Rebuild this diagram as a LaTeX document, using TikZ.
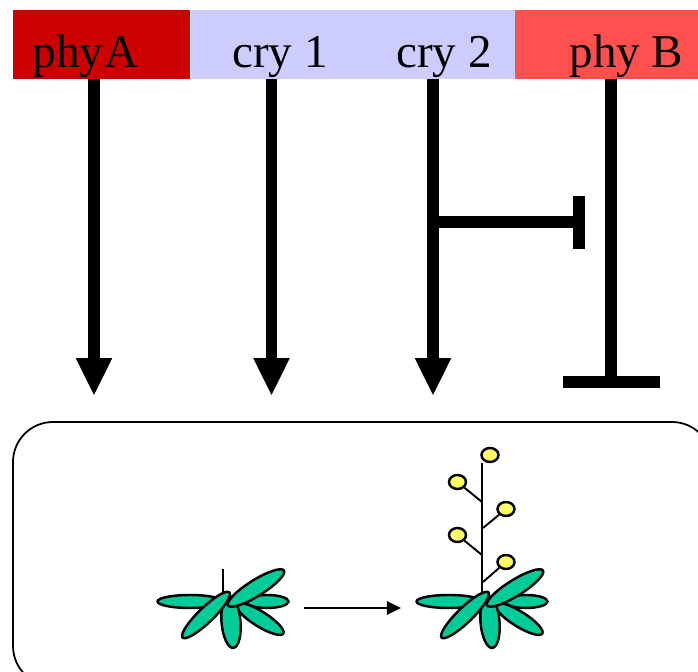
\documentclass[tikz,border=0pt]{standalone}
\usepackage{fontspec}
\setmainfont{Liberation Serif}
\usetikzlibrary{arrows.meta,positioning,shapes.geometric}
\definecolor{phyadark}{HTML}{CC0000}
\definecolor{crylilac}{HTML}{CCCCFF}
\definecolor{phybred}{HTML}{FF5050}
\definecolor{leafgreen}{HTML}{00CC99}
\definecolor{flowerylw}{HTML}{FFFF66}

\tikzset{
  band/.style={rectangle, inner sep=0pt, minimum height=1.38cm},
  photolabel/.style={anchor=base, inner sep=0pt, font=\fontsize{26.8}{30}\selectfont},
  bigarrow/.style={line width=6.8pt, -{Triangle[width=19pt, length=21.5pt]}},
  blocker/.style={line width=6.8pt},
  leaf/.style={draw, ellipse, fill=leafgreen, line width=1.4pt, inner sep=0pt},
  flower/.style={draw, ellipse, fill=flowerylw, line width=1.4pt, inner sep=0pt, minimum width=0.34cm, minimum height=0.28cm},
  rosette/.pic={
    % outer leaves first, the others lie over them
    \node[leaf, minimum width=1.30cm, minimum height=0.26cm] (-left) at (190,601.5) {};
    \node[leaf, minimum width=0.86cm, minimum height=0.26cm] (-right) at (267,601.5) {};
    \node[leaf, minimum width=1.10cm, minimum height=0.30cm, rotate=-32] (-lowright) at (260,619) {};
    \node[leaf, minimum width=1.04cm, minimum height=0.38cm, rotate=-85] (-bottom) at (231,622) {};
    \node[leaf, minimum width=1.30cm, minimum height=0.30cm, rotate=44] (-lowleft) at (206,615) {};
    \node[leaf, minimum width=1.32cm, minimum height=0.32cm, rotate=32] (-upright) at (256,588) {};
  }
}

\begin{document}
\begin{tikzpicture}[x=0.02cm, y=-0.02cm]
  \useasboundingbox (0,0) rectangle (698,672);

  % Colour bands along the top
  \node[band, minimum width=3.54cm, fill=phyadark] (phyaband) at (101.5,44.5) {};
  \node[band, minimum width=6.48cm, fill=crylilac, right=0pt of phyaband] (cryband) {};
  \node[band, minimum width=3.68cm, fill=phybred, right=0pt of cryband] (phybband) {};

  % Photoreceptor names
  \node[photolabel] (phyalabel) at (85.5,67.5) {phy\kern0.6pt A};
  \node[photolabel] (cryonelabel) at (280,67.5) {cry 1};
  \node[photolabel] (crytwolabel) at (444,67.5) {cry 2};
  \node[photolabel] (phyblabel) at (626.5,67.5) {phy B};

  % Free ends of the connectors
  \coordinate (phyatop) at (94,79);
  \coordinate (phyaend) at (94,396);
  \coordinate (cryonetop) at (271.5,79);
  \coordinate (cryoneend) at (271.5,396);
  \coordinate (crytwotop) at (433,79);
  \coordinate (crytwoend) at (433,396);
  \coordinate (phybtop) at (611,79);
  \coordinate (phybend) at (611,382);
  \coordinate (branch) at (433,222);
  \coordinate (branchend) at (579,222);
  \coordinate (barupper) at (579,196);
  \coordinate (barlower) at (579,249);
  \coordinate (footleft) at (563,382);
  \coordinate (footright) at (660,382);

  % Arrows
  \draw[bigarrow] (phyatop) -- (phyaend);
  \draw[bigarrow] (cryonetop) -- (cryoneend);
  \draw[bigarrow] (crytwotop) -- (crytwoend);

  % Repression bars
  \draw[blocker] (branch) -- (branchend);
  \draw[blocker] (barupper) -- (barlower);
  \draw[blocker] (phybtop) -- (phybend);
  \draw[blocker] (footleft) -- (footright);

  % Rounded frame, runs off the page on the right and below
  \draw[line width=1pt, rounded corners=0.8cm] (13,422) rectangle (712,686);

  % Small plant
  \coordinate (budtip) at (223,569);
  \coordinate (budbase) at (223,598);
  \draw[line width=1.1pt] (budtip) -- (budbase);
  \pic (small) at (0,0) {rosette};

  % Bolting arrow
  \coordinate (growstart) at (304,608);
  \coordinate (growend) at (401,608);
  \draw[line width=1.4pt, -{Triangle[width=7.5pt, length=8pt]}] (growstart) -- (growend);

  % Flowering plant
  \coordinate (stemtop) at (482,463);
  \coordinate (stembase) at (482,598);
  \draw[line width=1.5pt] (stemtop) -- (stembase);
  \node[flower] (bloomtop) at (490,455) {};
  \node[flower] (bloomone) at (457.5,482) {};
  \node[flower] (bloomtwo) at (506,509) {};
  \node[flower] (bloomthree) at (457.5,535) {};
  \node[flower] (bloomfour) at (506,562) {};
  \coordinate (forkone) at (482,502);
  \coordinate (forktwo) at (483,528);
  \coordinate (forkthree) at (482,555);
  \coordinate (forkfour) at (483,582);
  \draw[line width=1.1pt] (bloomone) -- (forkone);
  \draw[line width=1.1pt] (bloomtwo) -- (forktwo);
  \draw[line width=1.1pt] (bloomthree) -- (forkthree);
  \draw[line width=1.1pt] (bloomfour) -- (forkfour);
  \pic (big) at (259,0) {rosette};
\end{tikzpicture}
\end{document}
